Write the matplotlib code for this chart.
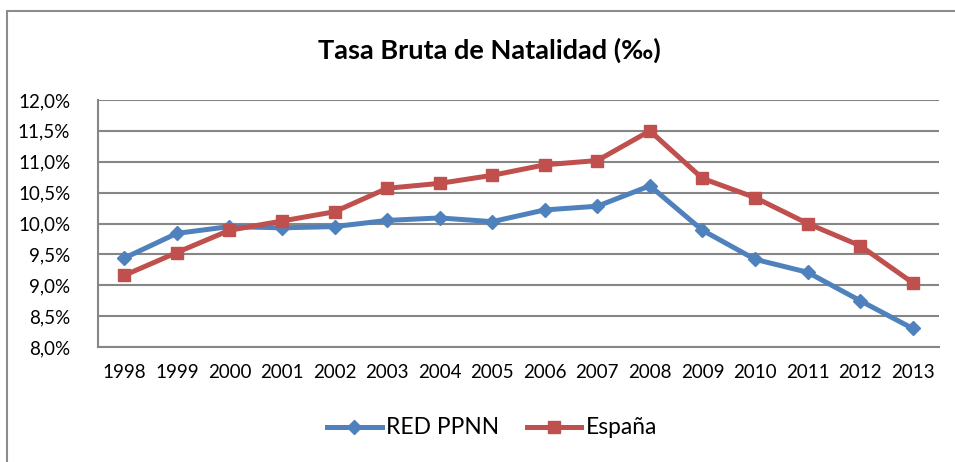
import matplotlib.pyplot as plt
from matplotlib.patches import Rectangle
from matplotlib.ticker import FuncFormatter

years = [str(y) for y in range(1998, 2014)]
red_ppnn = [9.44, 9.84, 9.95, 9.93, 9.95, 10.05, 10.09, 10.03,
            10.22, 10.28, 10.61, 9.89, 9.42, 9.21, 8.75, 8.30]
espana = [9.16, 9.53, 9.89, 10.04, 10.19, 10.57, 10.65, 10.78,
          10.95, 11.02, 11.50, 10.73, 10.42, 10.00, 9.64, 9.04]
y_ticks = [8.0, 8.5, 9.0, 9.5, 10.0, 10.5, 11.0, 11.5, 12.0]

plt.rcParams["font.family"] = ["Lato", "DejaVu Sans"]

fig = plt.figure(figsize=(9.55, 4.62), dpi=100)
# chart frame (only left/top visible in the original crop)
fig.patches.append(Rectangle((7 / 955, -0.1), 1.2, 1 - 11 / 462 + 0.1,
                             transform=fig.transFigure, fill=False,
                             edgecolor="#8c8c8c", linewidth=1.5))
ax = fig.add_axes([98 / 955, 1 - 347 / 462, (939 - 98) / 955, 247 / 462])

x = range(len(years))
ax.plot(x, red_ppnn, color="#4F81BD", linewidth=3.6, marker="D",
        markersize=7, label="RED PPNN", zorder=3)
ax.plot(x, espana, color="#C0504D", linewidth=3.6, marker="s",
        markersize=8, label="España", zorder=3)

ax.set_xlim(-0.5, len(years) - 0.5)
ax.set_ylim(8.0, 12.0)
ax.set_yticks(y_ticks)
ax.yaxis.set_major_formatter(FuncFormatter(lambda v, p: f"{v:.1f}%".replace(".", ",")))
ax.set_xticks(list(x))
ax.set_xticklabels(years)
ax.tick_params(axis="both", length=0, labelsize=13.5, colors="black")
ax.tick_params(axis="x", pad=12)
ax.tick_params(axis="y", pad=20)

ax.grid(axis="y", color="#868686", linewidth=1.5)
ax.set_axisbelow(True)
for side in ["top", "right"]:
    ax.spines[side].set_visible(False)
for side in ["left", "bottom"]:
    ax.spines[side].set_color("#868686")
    ax.spines[side].set_linewidth(1.5)

fig.text(489 / 955, 1 - 50 / 462, "Tasa Bruta de Natalidad (‰)",
         ha="center", va="center", fontsize=19.5, fontweight="bold")

fig.legend(loc="center", bbox_to_anchor=(492 / 955, 1 - 428 / 462), ncol=2,
           frameon=False, fontsize=16.4, handlelength=2.4, columnspacing=1.2,
           handletextpad=0.2)

plt.savefig("out.png", dpi=100)
